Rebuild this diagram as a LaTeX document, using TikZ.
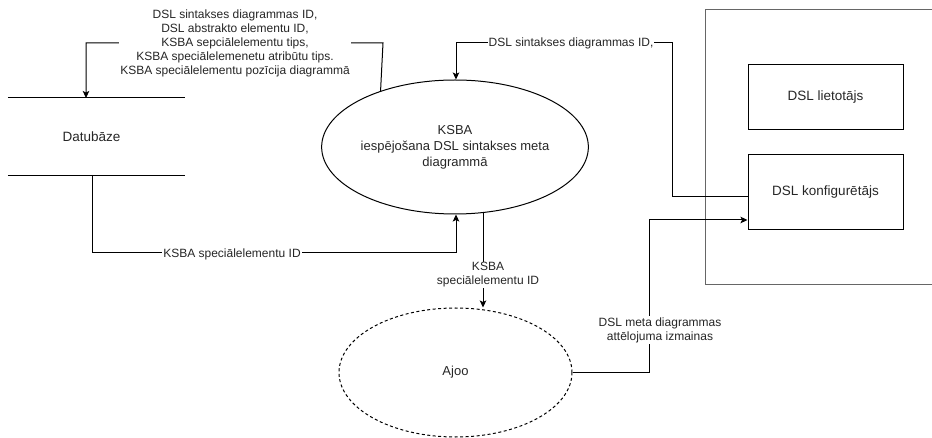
\documentclass[tikz,border=0pt]{standalone}
\usepackage{fontspec}
\setmainfont{Liberation Sans}
\usetikzlibrary{arrows.meta,shapes.geometric,calc}

\tikzset{
  flow/.style={line width=1pt,-{Stealth[length=7pt,width=6.5pt,inset=1.5pt]}},
  plain/.style={line width=1pt},
  lbl/.style={fill=white,inner sep=1pt,align=center,text=black!85,
    font=\fontsize{12}{14}\selectfont},
  proc/.style={ellipse,draw,line width=1pt,align=center,text=black!85,
    font=\fontsize{13}{16}\selectfont,inner sep=0pt},
  entity/.style={rectangle,draw,line width=1pt,text=black!85,
    font=\fontsize{13.5}{16}\selectfont},
}

\begin{document}
\begin{tikzpicture}[x=1pt,y=-1pt]
\useasboundingbox (0,0) rectangle (932,438);

% external system frame (right side runs off the page)
\draw[line width=1pt,black!60] (945,10) -- (705,10) -- (705,285) -- (945,285);

% entities
\node[entity,minimum width=155,minimum height=65] (user) at (825.5,97.5) {DSL lietotājs};
\node[entity,minimum width=155,minimum height=75] (konfig) at (825.5,192.5) {DSL konfigurētājs};

% processes
\node[proc,minimum width=234,minimum height=134] (ksba) at (455,147)
  {KSBA\\iespējošana DSL sintakses meta\\diagrammā};
\node[proc,dashed,dash pattern=on 3pt off 2.5pt,minimum width=233,minimum height=129] (ajoo) at (455.5,372.5) {Ajoo};

% data store
\node[minimum width=177,minimum height=77,inner sep=0pt,text=black!85,
  font=\fontsize{13.5}{16}\selectfont] (db) at (96.5,136.5) {\hspace{-10pt}Datubāze};
\draw[plain] (db.north west) -- (db.north east);
\draw[plain] (db.south west) -- (db.south east);

% bend points
\coordinate (c1a) at (383,43);
\coordinate (c1b) at (86,43);
\coordinate (dbin) at (86,98);
\coordinate (c2a) at (672,197);
\coordinate (c2b) at (672,43);
\coordinate (c2c) at (456,43);
\coordinate (dbout) at (92,175);
\coordinate (c3a) at (92,253);
\coordinate (c3b) at (456,253);
\coordinate (c5a) at (649,372.5);
\coordinate (c5b) at (649,220);

% KSBA -> data store
\draw[flow] (ksba.143.7) -- (c1a) -- (c1b) -- (dbin);
\node[lbl] (l1) at (235,43) {DSL sintakses diagrammas ID,\\DSL abstrakto elementu ID,\\KSBA sepciālelementu tips,\\KSBA speciālelemenetu atribūtu tips.\\KSBA speciālelementu pozīcija diagrammā};

% configurator -> KSBA
\draw[flow] (konfig.west |- c2a) -- (c2a) -- (c2b) -- (c2c) -- (ksba.north -| c2c);
\node[lbl] (l2) at (571,43) {DSL sintakses diagrammas ID,};

% data store -> KSBA
\draw[flow] (dbout) -- (c3a) -- (c3b) -- (ksba.south -| c3b);
\node[lbl] (l3) at (232,254) {KSBA speciālelementu ID};

% KSBA -> Ajoo
\draw[flow] (ksba.-67.5) -- (ksba.-67.5 |- ajoo.north);
\node[lbl] (l4) at (488,275) {KSBA\\speciālelementu ID};

% Ajoo -> configurator
\draw[flow] (ajoo.east) -- (c5a) -- (c5b) -- (konfig.west |- c5b);
\node[lbl] (l5) at (660,330) {DSL meta diagrammas\\attēlojuma izmainas};
\end{tikzpicture}
\end{document}
